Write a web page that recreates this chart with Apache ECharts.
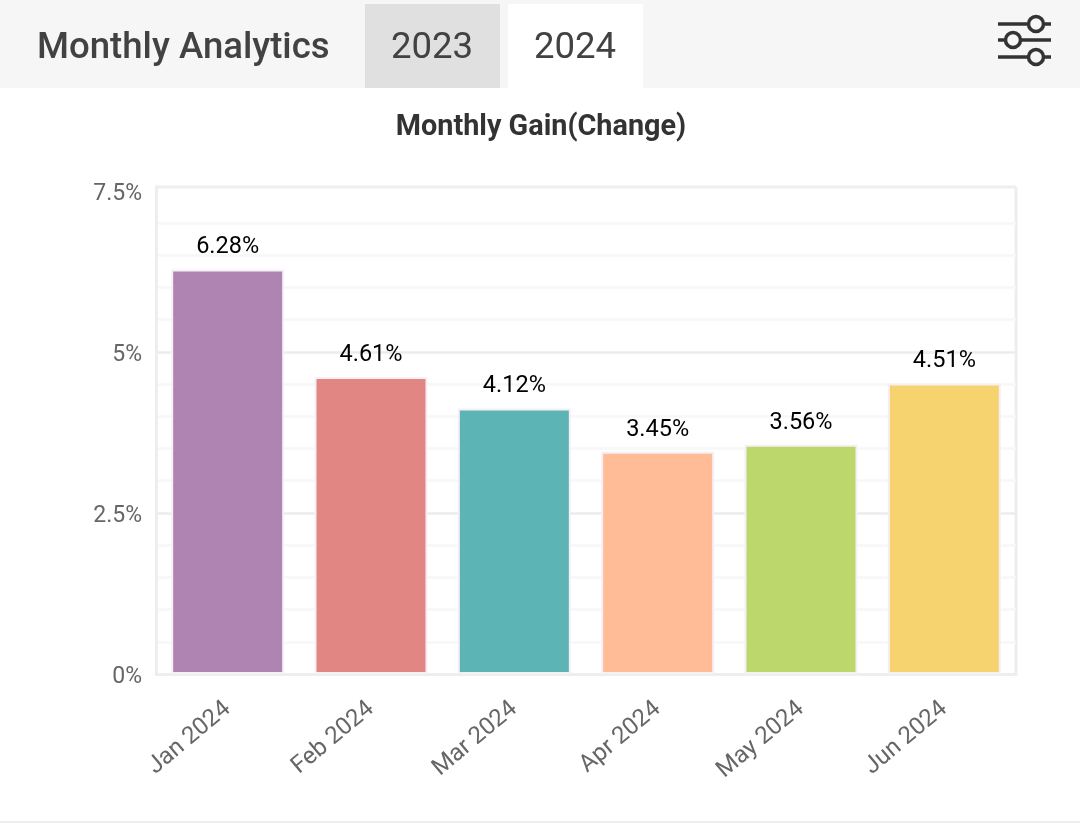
<!DOCTYPE html>
<html><head><meta charset="utf-8">
<style>html,body{margin:0;padding:0;background:#fff}#c{width:1080px;height:829px}</style>
<script src="https://cdn.jsdelivr.net/npm/echarts@6/dist/echarts.min.js"></script></head>
<body><div id="c"></div>
<script>
const categories = ['Jan 2024','Feb 2024','Mar 2024','Apr 2024','May 2024','Jun 2024'];
const gains = [6.28,4.61,4.12,3.45,3.56,4.51];
const barColors = ['#b084b2','#e28683','#5cb4b4','#ffbc96','#bcd76b','#f6d36f'];
const tabs = ['2023','2024'];
const M='#ececec', m='#f7f7f7', N='rgba(0,0,0,0)';
const gridColors = [M,m,m,m,m,M,m,m,m,m,M,m,m,m,m,N,N];
const chart = echarts.init(document.getElementById('c'),null,{renderer:'canvas'});
const F='Roboto';
const sliderLine=(x1,x2,y)=>({type:'line',shape:{x1,y1:y,x2,y2:y},style:{stroke:'#333',lineWidth:3.5}});
const knob=(cx,cy)=>({type:'circle',shape:{cx,cy,r:7.5},style:{fill:'#f6f6f6',stroke:'#333',lineWidth:3.5}});
chart.setOption({
  animation:false,
  backgroundColor:'#fff',
  title:{text:'Monthly Gain(Change)',left:536,top:108,textAlign:'center',
    textStyle:{fontFamily:F,fontWeight:'bold',fontSize:28.8,color:'#333'}},
  grid:{left:156,right:64,top:187,bottom:155},
  xAxis:{type:'category',data:categories,
    axisLine:{lineStyle:{color:'#eeeeee',width:3}},axisTick:{show:false},
    splitLine:{show:false},
    axisLabel:{rotate:40,interval:0,fontFamily:F,fontSize:24,color:'#666',margin:32}},
  yAxis:{type:'value',min:0,max:7.56,interval:0.5,
    axisLine:{show:true,lineStyle:{color:'#eeeeee',width:3}},axisTick:{show:false},
    axisLabel:{formatter:v=>(v%2.5===0)?v+'%':'',fontFamily:F,fontSize:23,color:'#666',margin:14,verticalAlign:'top',lineHeight:6},
    splitLine:{show:true,lineStyle:{color:gridColors,width:2.5}}},
  series:[{type:'bar',barWidth:113,
    data:gains.map((v,i)=>({value:v,itemStyle:{color:barColors[i],borderColor:'#f5f0f5',borderWidth:2}})),
    label:{show:true,position:'top',distance:10,formatter:p=>p.value+'%',fontFamily:F,fontSize:23.5,color:'#000'}}],
  graphic:[
    {type:'rect',shape:{x:0,y:0,width:1080,height:88},style:{fill:'#f6f6f6'},z:-1},
    {type:'rect',shape:{x:365,y:4,width:135,height:84},style:{fill:'#e0e0e0'}},
    {type:'rect',shape:{x:508,y:4,width:135,height:84},style:{fill:'#ffffff'}},
    {type:'text',x:37,y:49,style:{text:'Monthly Analytics',fontFamily:F,fontWeight:500,fontSize:36.6,fill:'#424242',verticalAlign:'middle'}},
    {type:'text',x:432,y:49,style:{text:tabs[0],fontFamily:F,fontSize:36.6,fill:'#424242',align:'center',verticalAlign:'middle'}},
    {type:'text',x:575,y:49,style:{text:tabs[1],fontFamily:F,fontSize:36.6,fill:'#424242',align:'center',verticalAlign:'middle'}},
    sliderLine(998,1051,24),sliderLine(998,1051,40),sliderLine(998,1051,57),
    knob(1036,24),knob(1013,40),knob(1036,57),
    {type:'line',shape:{x1:0,y1:822,x2:1080,y2:822},style:{stroke:'#eeeeee',lineWidth:2}},
    {type:'line',shape:{x1:156,y1:187,x2:1016,y2:187},style:{stroke:'#eeeeee',lineWidth:3}},
    {type:'line',shape:{x1:1016,y1:187,x2:1016,y2:674},style:{stroke:'#eeeeee',lineWidth:3}}
  ]
});
</script></body></html>
